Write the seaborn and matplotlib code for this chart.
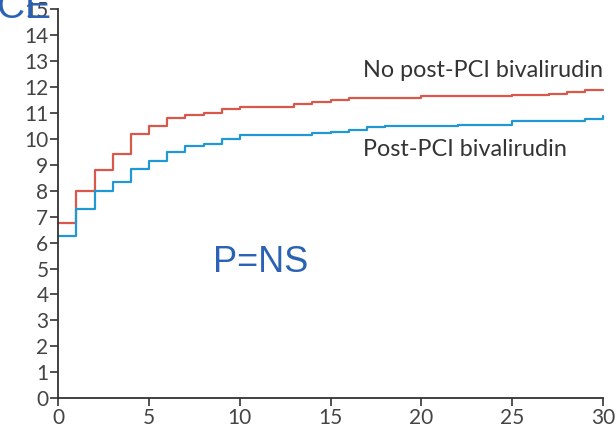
import matplotlib
matplotlib.use("Agg")
import matplotlib.pyplot as plt
import seaborn as sns
import pandas as pd

# Cumulative event rate (%) by day, step values taken after each day
no_post_days = [0, 1, 2, 3, 4, 5, 6, 7, 8, 9, 10, 13, 14, 15, 16, 20, 25, 27, 28, 29, 30]
no_post_vals = [6.75, 8.0, 8.8, 9.4, 10.2, 10.5, 10.8, 10.9, 11.0, 11.15, 11.23,
                11.34, 11.43, 11.5, 11.58, 11.64, 11.68, 11.72, 11.79, 11.88, 11.88]

post_days = [0, 1, 2, 3, 4, 5, 6, 7, 8, 9, 10, 14, 15, 16, 17, 18, 22, 25, 29, 30]
post_vals = [6.25, 7.3, 8.0, 8.35, 8.85, 9.15, 9.5, 9.73, 9.82, 10.0, 10.14,
             10.21, 10.27, 10.33, 10.44, 10.5, 10.55, 10.69, 10.76, 10.87]

x_ticks = [0, 5, 10, 15, 20, 25, 30]
y_ticks = list(range(0, 16))

group_no = "No post-PCI bivalirudin"
group_yes = "Post-PCI bivalirudin"

df = pd.concat([
    pd.DataFrame({"day": no_post_days, "rate": no_post_vals, "group": group_no}),
    pd.DataFrame({"day": post_days, "rate": post_vals, "group": group_yes}),
], ignore_index=True)

sns.set_theme(style="ticks")
plt.rcParams["font.family"] = ["Lato", "DejaVu Sans"]

fig = plt.figure(figsize=(6.16, 4.36), dpi=100)
ax = fig.add_axes([0.0945, 0.0867, 0.8845, 0.8923])

palette = {group_no: "#d9584b", group_yes: "#1f98d3"}
sns.lineplot(data=df, x="day", y="rate", hue="group", palette=palette,
             drawstyle="steps-post", linewidth=1.6, legend=False, ax=ax,
             estimator=None, sort=True)
for line in ax.get_lines():
    line.set_clip_on(False)

ax.set_xlim(0, 30)
ax.set_ylim(0, 15)
ax.set_xticks(x_ticks)
ax.set_yticks(y_ticks)
ax.set_xlabel("")
ax.set_ylabel("")

for side in ("top", "right"):
    ax.spines[side].set_visible(False)
for side in ("left", "bottom"):
    ax.spines[side].set_color("#333333")
    ax.spines[side].set_linewidth(1.3)
ax.tick_params(axis="both", direction="out", length=6, width=1.2,
               color="#333333", labelcolor="#444444", labelsize=15, pad=1)

ax.text(16.8, 12.37, group_no, fontsize=16.8, color="#333333",
        ha="left", va="baseline")
ax.text(16.8, 9.35, group_yes, fontsize=16.8, color="#333333",
        ha="left", va="baseline")

ax.text(8.5, 4.87, "P=NS", fontsize=26, color="#2b62b4",
        family=["Liberation Sans", "DejaVu Sans"], ha="left", va="baseline")

fig.text(51 / 616, 1 - 18 / 436, "CE", fontsize=28, color="#2b62b4",
         family=["Liberation Sans", "DejaVu Sans"], ha="right", va="baseline")

fig.savefig("out.png", dpi=100)
